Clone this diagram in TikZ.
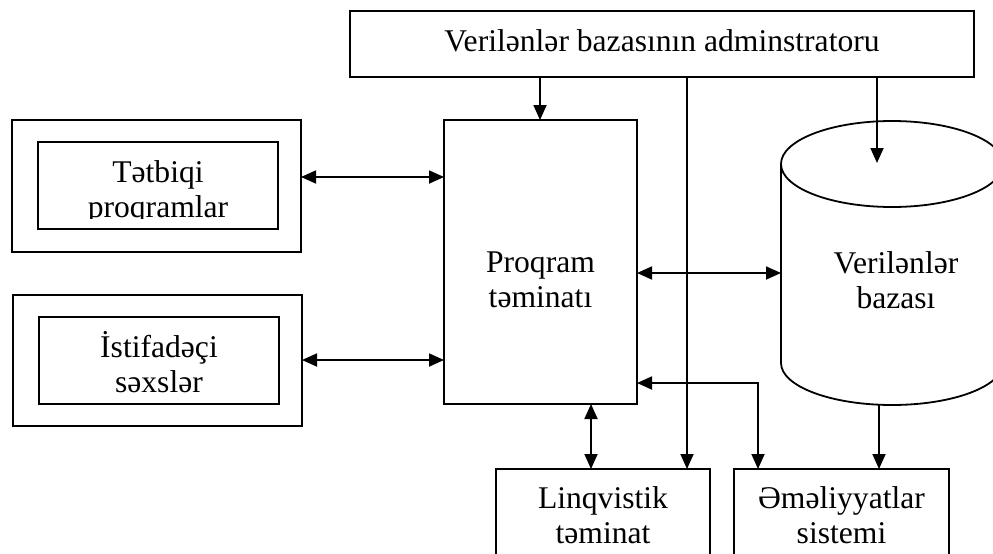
\documentclass[tikz,border=0pt]{standalone}
\usepackage{fontspec}
\setmainfont{Liberation Serif}
\usetikzlibrary{arrows.meta}
\tikzset{
  box/.style={draw, line width=1.8pt, inner sep=0pt, outer sep=0pt, fill=none},
  txt/.style={inner sep=0pt, outer sep=0pt, align=center, font=\fontsize{31.6}{35}\selectfont},
  conn/.style={line width=1.8pt},
  tip/.style={-{Triangle[length=15pt,width=13pt]}},
  biarrow/.style={{Triangle[length=15pt,width=13pt]}-{Triangle[length=15pt,width=13pt]}},
}
\begin{document}
\begin{tikzpicture}[x=1pt,y=-1pt]
\useasboundingbox (0,0) rectangle (993,554);
\fill[white] (0,0) rectangle (993,554);
\clip (0,0) rectangle (993,554);

% boxes
\node[box, minimum width=624pt, minimum height=66pt, txt] (admin) at (662,44) {\strut Verilənlər bazasının adminstratoru};
\node[box, minimum width=289pt, minimum height=132pt] (outer1) at (156.5,186) {};
\node[box, minimum width=240pt, minimum height=87pt] (inner1) at (158,185.5) {};
\node[box, minimum width=289pt, minimum height=131pt] (outer2) at (157.5,360.5) {};
\node[box, minimum width=240pt, minimum height=87pt] (inner2) at (159,360.5) {};
\node[box, minimum width=193pt, minimum height=284pt] (prog) at (540.5,262) {};
\node[box, minimum width=214pt, minimum height=131pt] (ling) at (603,534.5) {};
\node[box, minimum width=215pt, minimum height=131pt] (emel) at (841.5,534.5) {};

% cylinder
\draw[conn] (781,164) -- (781,363) arc[start angle=180, end angle=0, x radius=111, y radius=42] -- (1003,164);
\draw[conn] (892,164) ellipse[x radius=111, y radius=43];
\coordinate (dbleft) at (781,273);
\coordinate (dbin) at (877,163);
\coordinate (dbbot) at (879,405);

% texts
\begin{scope}
\clip (40,140) rectangle (276,218.5);
\node[txt] (t1) at (158,192.5) {\strut Tətbiqi\\\strut proqramlar};
\end{scope}
\node[txt] (t2) at (159,367.5) {\strut İstifadəçi\\\strut səxslər};
\node[txt] (t3) at (540.5,282.5) {\strut Proqram\\\strut təminatı};
\node[txt] (t4) at (896,283.5) {\strut Verilənlər\\\strut bazası};
\node[txt] (t5) at (603,518.5) {\strut Linqvistik\\\strut təminat};
\node[txt] (t6) at (841.5,518.5) {\strut Əməliyyatlar\\\strut sistemi};

% helper coordinates
\coordinate (ya) at (0,177);
\coordinate (yb) at (0,360);
\coordinate (yc) at (0,273);
\coordinate (yd) at (0,383);
\coordinate (xa) at (540,0);
\coordinate (xb) at (591,0);
\coordinate (xc) at (687,0);
\coordinate (xd) at (758,0);
\coordinate (xe) at (877,0);
\coordinate (xf) at (879,0);

% connectors
\draw[conn, tip] (admin.south -| xa) -- (prog.north -| xa);
\draw[conn, tip] (admin.south -| xc) -- (ling.north -| xc);
\draw[conn, tip] (admin.south -| xe) -- (dbin);
\draw[conn, biarrow] (outer1.east |- ya) -- (prog.west |- ya);
\draw[conn, biarrow] (outer2.east |- yb) -- (prog.west |- yb);
\draw[conn, biarrow] (prog.east |- yc) -- (dbleft);
\draw[conn, biarrow] (prog.south -| xb) -- (ling.north -| xb);
\draw[conn, biarrow] (prog.east |- yd) -| (emel.north -| xd);
\draw[conn, tip] (dbbot) -- (emel.north -| xf);
\end{tikzpicture}
\end{document}
